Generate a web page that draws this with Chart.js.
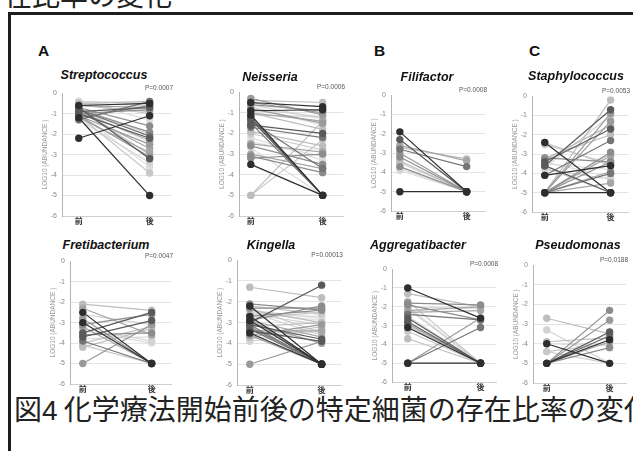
<!DOCTYPE html>
<html>
<head>
<meta charset="utf-8">
<script src="https://cdn.jsdelivr.net/npm/chart.js@4.4.1/dist/chart.umd.min.js"></script>
<style>
  html, body { margin: 0; padding: 0; background: #fff; width: 633px; height: 451px; overflow: hidden; position: relative;
    font-family: "Liberation Sans", Arial, sans-serif; }
  .frame { position: absolute; left: 8px; top: 12px; width: 700px; height: 520px; border: 3px solid #1d1d1d; box-sizing: border-box; }
  .jp { position: absolute; font-family: "Noto Sans CJK JP", sans-serif; font-size: 28px; line-height: 28px; color: #222; white-space: nowrap; }
  .letter { position: absolute; font-weight: bold; font-size: 15.5px; color: #111; line-height: 1; }
  .gtitle { position: absolute; font-weight: bold; font-style: italic; font-size: 12.5px; color: #111; white-space: nowrap;
    transform: translate(-50%, -50%); line-height: 1; }
  .pval { position: absolute; font-size: 6.5px; color: #555; white-space: nowrap; transform: translate(-100%, -50%); line-height: 1; }
  .panel { position: absolute; }
  .panel canvas { display: block; }
</style>
</head>
<body>
<div class="jp" style="left:4px; top:-20px;">在比率の変化</div>
<div class="frame"></div>
<div class="letter" style="left:38px; top:43px;">A</div>
<div class="letter" style="left:374px; top:43px;">B</div>
<div class="letter" style="left:529px; top:43px;">C</div>
<div class="jp" style="left:14px; top:394px;">図<span style="font-family:'Liberation Sans',Arial,sans-serif;">4</span> 化学療法開始前後の特定細菌の存在比率の変化</div>
<div id="panels"></div>

<script>
// Sampling points and axis labels
const timepoints = ['前', '後'];
const yTickValues = [0, -1, -2, -3, -4, -5, -6];
const axisTitle = 'LOG10 (ABUNDANCE )';

const genusNames = ['Streptococcus', 'Neisseria', 'Filifactor', 'Staphylococcus',
                    'Fretibacterium', 'Kingella', 'Aggregatibacter', 'Pseudomonas'];
const pValues = ['P=0.0007', 'P=0.0006', 'P=0.0008', 'P=0.0053',
                 'P=0.0047', 'P=0.00013', 'P=0.0008', 'P=0.0188'];

// log10 relative abundance per patient, before / after chemotherapy (paired by index)
const streptococcusBefore = [-1.2, -0.5, -0.8, -0.4, -0.9, -0.7, -1.1, -0.6, -1.0, -0.8, -2.2, -0.6, -0.7, -1.3, -0.9,
                             -1.0, -0.5, -1.1, -0.4, -1.2, -0.6, -0.8, -1.0, -0.7, -1.2, -0.9, -0.5, -1.1, -0.8, -1.3];
const streptococcusAfter  = [-5.0, -0.4, -1.9, -0.5, -2.3, -3.2, -3.9, -0.7, -3.6, -2.1, -1.1, -0.9, -1.6, -3.4, -2.7,
                             -2.2, -0.6, -2.5, -1.3, -0.6, -0.5, -3.0, -0.8, -2.0, -2.9, -0.7, -1.0, -3.1, -2.4, -0.4];

const neisseriaBefore = [-1.1, -0.4, -0.6, -0.8, -1.0, -1.3, -2.0, -0.5, -2.4, -1.5, -0.9, -5.0, -2.6, -0.7, -3.0, -1.2, -5.0,
                         -0.3, -2.7, -1.7, -3.5, -1.0, -3.2, -0.6, -2.5, -1.6, -5.0, -0.8, -2.2, -1.4, -0.5, -1.9, -3.1, -1.1];
const neisseriaAfter  = [-5.0, -0.5, -0.9, -1.2, -1.4, -5.0, -2.8, -1.0, -3.1, -5.0, -0.85, -1.4, -3.5, -1.6, -3.7, -5.0, -2.3,
                         -1.1, -5.0, -2.2, -5.0, -1.8, -3.0, -1.3, -2.9, -2.0, -5.0, -1.5, -3.3, -3.7, -0.7, -2.6, -3.9, -1.2];

const filifactorBefore = [-1.9, -2.7, -3.2, -3.8, -2.6, -2.3, -3.5, -3.0, -3.9, -2.8, -5.0, -3.4, -3.7];
const filifactorAfter  = [-5.0, -3.3, -5.0, -5.0, -3.4, -5.0, -5.0, -5.0, -5.0, -3.7, -5.0, -5.0, -5.0];

const staphylococcusBefore = [-2.4, -5.0, -3.2, -3.7, -5.0, -3.6, -2.5, -5.0, -3.4, -4.1, -5.0, -3.3, -5.0, -3.8,
                              -5.0, -3.6, -2.4, -5.0, -3.5, -5.0, -4.1, -3.2, -5.0, -3.7, -5.0, -3.4, -5.0];
const staphylococcusAfter  = [-5.0, -0.2, -3.4, -1.0, -3.9, -0.7, -3.5, -1.3, -4.2, -2.3, -5.0, -1.5, -2.9, -4.3,
                              -3.1, -5.0, -3.6, -0.9, -3.8, -4.0, -3.6, -2.0, -3.4, -5.0, -4.5, -1.7, -3.0];

const fretibacteriumBefore = [-2.5, -2.1, -3.1, -3.3, -2.3, -3.7, -4.0, -2.8, -3.4, -3.9, -3.0, -4.2, -3.6, -2.6, -3.2,
                              -3.5, -4.1, -5.0, -3.8];
const fretibacteriumAfter  = [-5.0, -2.4, -2.6, -3.9, -3.6, -2.9, -3.2, -5.0, -4.0, -5.0, -5.0, -3.3, -3.5, -3.1, -5.0,
                              -2.5, -5.0, -3.1, -3.7];

const kingellaBefore = [-2.9, -1.3, -2.3, -2.6, -3.4, -3.0, -2.2, -3.6, -2.5, -3.2, -3.5, -2.4, -2.7, -3.8, -2.8, -3.1,
                        -2.3, -5.0, -2.6, -3.3, -2.2, -3.7, -2.9, -2.5, -3.0, -3.4, -2.8, -3.6, -2.4, -3.1, -2.7, -3.2,
                        -2.1, -3.9, -2.9];
const kingellaAfter  = [-5.0, -1.8, -2.3, -3.1, -3.4, -1.2, -2.6, -5.0, -2.9, -5.0, -5.0, -3.0, -2.4, -3.3, -5.0, -3.8,
                        -3.5, -3.9, -2.7, -5.0, -5.0, -3.2, -2.2, -3.6, -4.0, -3.9, -2.5, -3.1, -2.8, -5.0, -5.0, -3.0,
                        -2.4, -3.4, -3.7];

const aggregatibacterBefore = [-1.0, -1.3, -1.8, -2.1, -2.3, -2.6, -1.7, -2.9, -2.0, -5.0, -3.1, -3.7, -1.9, -2.5,
                               -2.2, -2.8, -3.3, -5.0, -2.0, -2.4, -5.0, -3.0];
const aggregatibacterAfter  = [-2.6, -2.0, -1.9, -5.0, -2.2, -5.0, -5.0, -5.0, -2.1, -3.1, -5.0, -5.0, -2.7, -5.0,
                               -2.0, -5.0, -5.0, -2.6, -5.0, -2.7, -5.0, -5.0];

const pseudomonasBefore = [-4.0, -2.7, -5.0, -3.3, -5.0, -5.0, -4.4, -5.0, -4.0, -5.0, -5.0, -3.9, -5.0, -4.4];
const pseudomonasAfter  = [-5.0, -3.5, -2.3, -5.0, -3.9, -3.4, -4.0, -2.8, -4.1, -3.6, -3.8, -3.7, -4.2, -5.0];

const pairedSeries = [
  [streptococcusBefore, streptococcusAfter],
  [neisseriaBefore, neisseriaAfter],
  [filifactorBefore, filifactorAfter],
  [staphylococcusBefore, staphylococcusAfter],
  [fretibacteriumBefore, fretibacteriumAfter],
  [kingellaBefore, kingellaAfter],
  [aggregatibacterBefore, aggregatibacterAfter],
  [pseudomonasBefore, pseudomonasAfter]
];

// Page layout of each small plot (pixels): y axis line, plot top/bottom, plot right edge,
// x positions of the two timepoints and the title centre.
const panelFrames = [
  { axis: 62,  top: 92,  bottom: 216, right: 173, xPre: 79,  xPost: 151, tx: 104, ty: 75 },
  { axis: 239, top: 91,  bottom: 216, right: 345, xPre: 251, xPost: 324, tx: 270, ty: 77 },
  { axis: 391, top: 94,  bottom: 211, right: 487, xPre: 400, xPost: 468, tx: 427, ty: 77 },
  { axis: 532, top: 95,  bottom: 212, right: 630, xPre: 545, xPost: 612, tx: 576, ty: 76 },
  { axis: 70,  top: 260, bottom: 384, right: 173, xPre: 83,  xPost: 153, tx: 106, ty: 245 },
  { axis: 237, top: 259, bottom: 385, right: 343, xPre: 250, xPost: 323, tx: 271, ty: 245 },
  { axis: 392, top: 268, bottom: 382, right: 498, xPre: 408, xPost: 482, tx: 418, ty: 245 },
  { axis: 533, top: 264, bottom: 383, right: 628, xPre: 547, xPost: 611, tx: 578, ty: 245 }
];

// Line/point greys, cycled through the patients of each plot
const greys = ['#2e2e2e', '#bdbdbd', '#8c8c8c', '#d3d3d3', '#a6a6a6', '#5a5a5a', '#c8c8c8', '#9a9a9a', '#dcdcdc', '#757575'];

const Y_AXIS_W = 21, PAD_TOP = 8, PAD_RIGHT = 2, X_AXIS_H = 12;
const host = document.getElementById('panels');

pairedSeries.forEach(([pre, post], i) => {
  const f = panelFrames[i];
  const plotW = f.right - f.axis;
  const unitPx = f.xPost - f.xPre;
  const xMin = -(f.xPre - f.axis) / unitPx;
  const xMax = xMin + plotW / unitPx;

  const cw = plotW + Y_AXIS_W + PAD_RIGHT;
  const ch = f.bottom - f.top + PAD_TOP + X_AXIS_H;

  const box = document.createElement('div');
  box.className = 'panel';
  box.style.left = (f.axis - Y_AXIS_W) + 'px';
  box.style.top = (f.top - PAD_TOP) + 'px';
  const cv = document.createElement('canvas');
  cv.width = cw; cv.height = ch;
  cv.style.width = cw + 'px'; cv.style.height = ch + 'px';
  box.appendChild(cv);
  host.appendChild(box);

  const title = document.createElement('div');
  title.className = 'gtitle';
  title.style.left = f.tx + 'px';
  title.style.top = f.ty + 'px';
  title.textContent = genusNames[i];
  document.body.appendChild(title);

  const p = document.createElement('div');
  p.className = 'pval';
  p.style.left = f.right + 'px';
  p.style.top = (f.top - 4) + 'px';
  p.textContent = pValues[i];
  document.body.appendChild(p);

  const datasets = pre.map((b, k) => {
    const c = greys[k % greys.length];
    return {
      data: [{ x: 0, y: b }, { x: 1, y: post[k] }],
      borderColor: c,
      backgroundColor: c,
      borderWidth: 1.2,
      pointRadius: 3.7,
      pointBorderWidth: 0,
      pointHoverRadius: 3.7,
      order: parseInt(c.slice(1, 3), 16)
    };
  });

  new Chart(cv, {
    type: 'line',
    data: { datasets },
    options: {
      responsive: false,
      animation: false,
      devicePixelRatio: 1,
      events: [],
      layout: { padding: { top: PAD_TOP, right: PAD_RIGHT, left: 0, bottom: 0 } },
      plugins: { legend: { display: false }, tooltip: { enabled: false } },
      scales: {
        x: {
          type: 'linear',
          min: xMin,
          max: xMax,
          afterBuildTicks: s => { s.ticks = timepoints.map((_, k) => ({ value: k })); },
          afterFit: s => { s.height = X_AXIS_H; },
          grid: { display: false, drawTicks: false },
          border: { display: true, color: '#cfcfcf', width: 1 },
          ticks: {
            autoSkip: false,
            maxRotation: 0,
            padding: 0,
            color: '#333',
            font: { family: '"Noto Sans CJK JP", sans-serif', size: 8, weight: 'bold' },
            callback: v => timepoints[v]
          }
        },
        y: {
          min: -6,
          max: 0,
          afterBuildTicks: s => { s.ticks = yTickValues.map(v => ({ value: v })); },
          afterFit: s => { s.width = Y_AXIS_W; },
          grid: {
            drawTicks: false,
            color: ctx => (ctx.tick && ctx.tick.value === 0) ? 'rgba(0,0,0,0)' : '#e4e4e4',
            lineWidth: 1
          },
          border: { display: true, color: '#b5b5b5', width: 1 },
          ticks: {
            padding: 5,
            color: '#888',
            font: { family: '"Liberation Sans", Arial, sans-serif', size: 7 },
            callback: v => String(v)
          },
          title: {
            display: true,
            text: axisTitle,
            color: '#999',
            padding: 0,
            font: { family: '"Liberation Sans", Arial, sans-serif', size: 6.5 }
          }
        }
      }
    }
  });
});
</script>
</body>
</html>
